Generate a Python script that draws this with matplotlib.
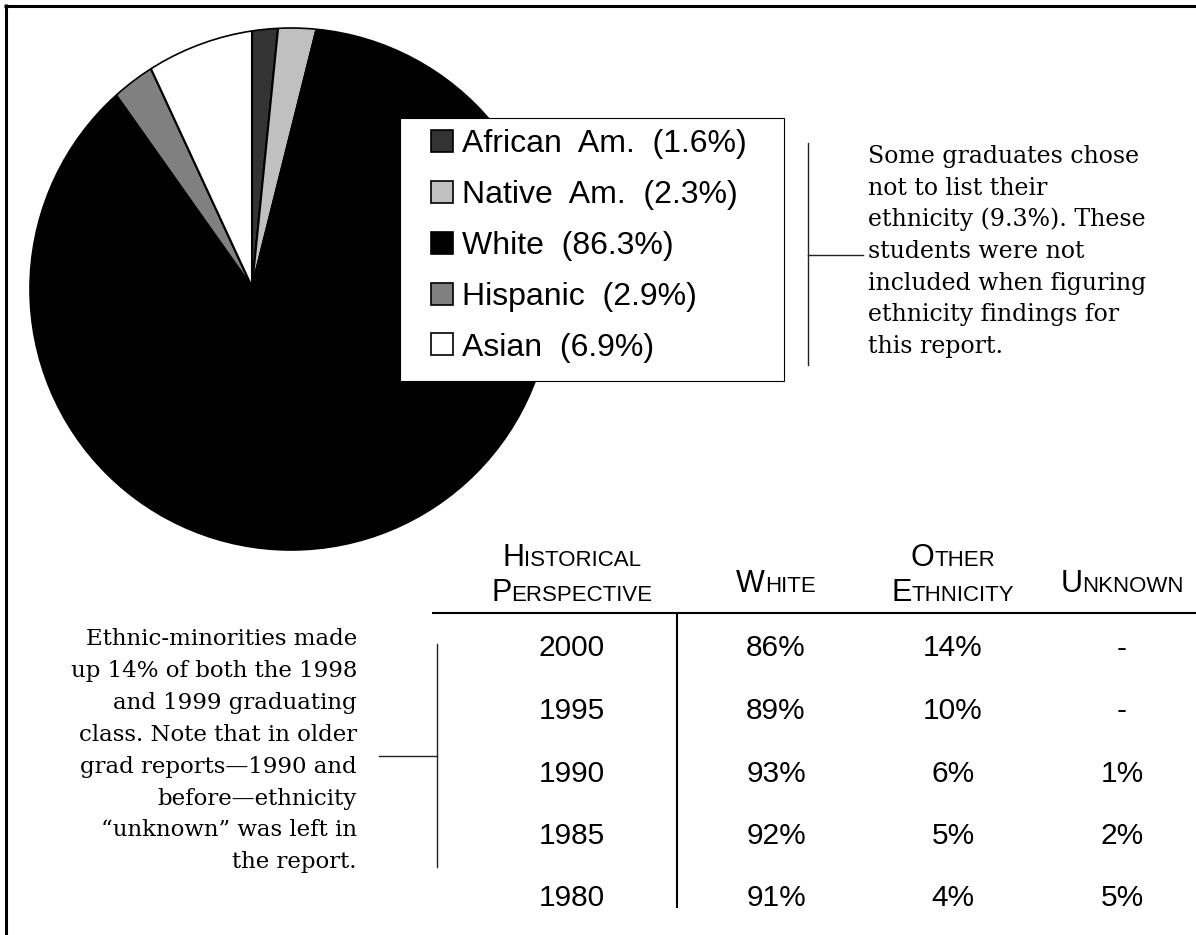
import matplotlib
matplotlib.use("Agg")
import matplotlib.pyplot as plt
from matplotlib import font_manager
from matplotlib.patches import Circle, Rectangle

W, H = 1196, 935

# pie data (clockwise from 12 o'clock)
groups = ["African Am.", "Native Am.", "White", "Hispanic", "Asian"]
shares = [1.6, 2.3, 86.3, 2.9, 6.9]
shades = ["#333333", "#c0c0c0", "#000000", "#808080", "#ffffff"]

# historical table
years = ["2000", "1995", "1990", "1985", "1980"]
white = ["86%", "89%", "93%", "92%", "91%"]
other = ["14%", "10%", "6%", "5%", "4%"]
unknown = ["-", "-", "1%", "2%", "5%"]
headers = [["Historical", "Perspective"], ["White"], ["Other", "Ethnicity"], ["Unknown"]]

note_right = ["Some graduates chose", "not to list their", "ethnicity (9.3%). These",
              "students were not", "included when figuring", "ethnicity findings for",
              "this report."]
note_left = ["Ethnic-minorities made", "up 14% of both the 1998", "and 1999 graduating",
             "class. Note that in older", "grad reports\u20141990 and", "before\u2014ethnicity",
             "\u201cunknown\u201d was left in", "the report."]

names = {f.name for f in font_manager.fontManager.ttflist}
sans = "Liberation Sans"
narrow = "Liberation Sans Narrow" if "Liberation Sans Narrow" in names else sans
serif = "DejaVu Serif"


def Y(y):
    # image rows (top = 0) to data coords
    return H - y


fig = plt.figure(figsize=(W / 100, H / 100), dpi=100)
ax = fig.add_axes([0, 0, 1, 1])

wedges, _ = ax.pie(shares, colors=shades, startangle=90, counterclock=False,
                   center=(252, Y(287)), radius=310,
                   wedgeprops=dict(edgecolor="black", linewidth=1.5))
ax.set_aspect("auto")
ax.set_xlim(0, W)
ax.set_ylim(0, H)
ax.axis("off")

labels = [g.replace(" ", "  ") + "  (%.1f%%)" % s for g, s in zip(groups, shares)]
leg = ax.legend(wedges, labels, loc="center left", bbox_to_anchor=(431, Y(246)),
                bbox_transform=ax.transData, frameon=False,
                prop=dict(family=sans, size=23), handlelength=0.68, handleheight=0.68,
                handletextpad=0.28, labelspacing=0.65, borderpad=0, borderaxespad=0)
for p in leg.legend_handles:
    p.set_linewidth(1.2)
ax.add_patch(Rectangle((400, Y(381)), 384, 263, facecolor="white",
                       edgecolor="black", linewidth=0.8, zorder=4))

# pie outline is a circle; slices meet left of its centre
clip = Circle((291, Y(289)), 261, transform=ax.transData)
for w in wedges:
    w.set_clip_on(True)
    w.set_clip_path(clip)
ax.add_patch(Circle((291, Y(289)), 261, fill=False, edgecolor="black", linewidth=1.2, zorder=2))

# page frame (top and left)
ax.plot([4, W], [Y(5.5), Y(5.5)], color="black", lw=2.2, solid_capstyle="butt")
ax.plot([5.5, 5.5], [Y(4), 0], color="black", lw=2.2, solid_capstyle="butt")

# notes and brackets
for i, line in enumerate(note_right):
    ax.text(868, Y(163 + i * 31.7), line, family=serif, fontsize=17, va="baseline", ha="left")
ax.plot([808, 808], [Y(143), Y(365)], color="#222222", lw=1)
ax.plot([808, 863], [Y(255), Y(255)], color="#222222", lw=1)

for i, line in enumerate(note_left):
    ax.text(357, Y(645 + i * 31.9), line, family=serif, fontsize=16.5, va="baseline", ha="right")
ax.plot([437, 437], [Y(644), Y(867)], color="#222222", lw=1)
ax.plot([379, 437], [Y(756), Y(756)], color="#222222", lw=1)

# table
renderer = fig.canvas.get_renderer()


def small_caps(xc, yb, word, big=22, small=16):
    t1 = ax.text(0, Y(yb), word[0], family=narrow, fontsize=big, va="baseline", ha="left")
    t2 = ax.text(0, Y(yb), word[1:].upper(), family=narrow, fontsize=small, va="baseline", ha="left")
    w1 = t1.get_window_extent(renderer).width
    w2 = t2.get_window_extent(renderer).width
    x0 = xc - (w1 + w2) / 2
    t1.set_x(x0)
    t2.set_x(x0 + w1)


col_x = [572, 776, 953, 1122]
for xc, words in zip(col_x, headers):
    if len(words) == 2:
        small_caps(xc, 566, words[0])
        small_caps(xc, 601, words[1])
    else:
        small_caps(xc, 592, words[0])

ax.plot([432, W], [Y(613), Y(613)], color="black", lw=1.5, solid_capstyle="butt")
ax.plot([677, 677], [Y(613), Y(908)], color="black", lw=1.5, solid_capstyle="butt")

for i in range(len(years)):
    yb = Y(646 + i * 62.5 + 10.5)
    for xc, col in zip(col_x, [years, white, other, unknown]):
        ax.text(xc, yb, col[i], family=sans, fontsize=21.5, ha="center", va="baseline")

fig.savefig("out.png", dpi=100, facecolor="white")
